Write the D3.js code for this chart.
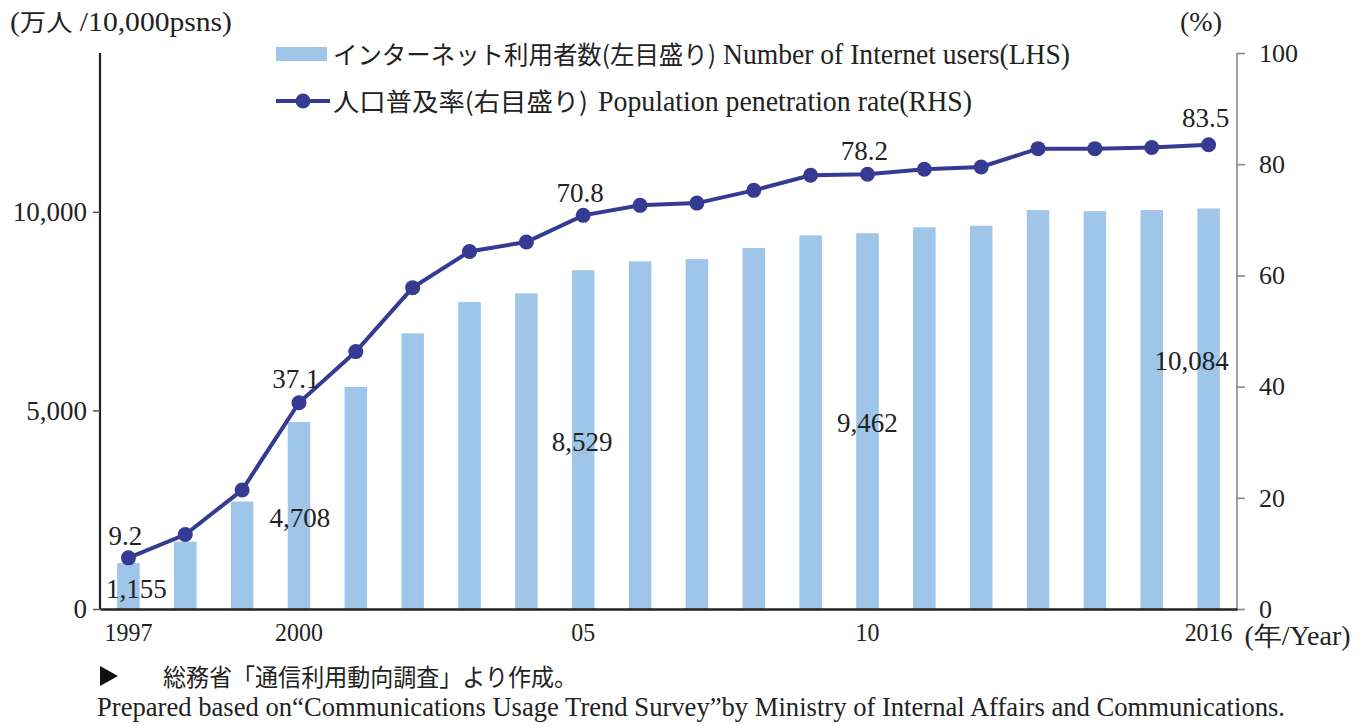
<!DOCTYPE html>
<html>
<head>
<meta charset="utf-8">
<script src="https://cdn.jsdelivr.net/npm/d3@7"></script>
<style>
  html, body { margin: 0; padding: 0; background: #fff; }
  svg { display: block; }
</style>
</head>
<body>
<div id="chart"></div>
<script>
// Internet users (10,000 persons) and population penetration rate (%), 1997-2016
const years = [1997, 1998, 1999, 2000, 2001, 2002, 2003, 2004, 2005, 2006,
               2007, 2008, 2009, 2010, 2011, 2012, 2013, 2014, 2015, 2016];
const users = [1155, 1694, 2706, 4708, 5593, 6942, 7730, 7948, 8529, 8754,
               8811, 9091, 9408, 9462, 9610, 9652, 10044, 10018, 10046, 10084];
const rate = [9.2, 13.4, 21.4, 37.1, 46.3, 57.8, 64.3, 66.0, 70.8, 72.6,
              73.0, 75.3, 78.0, 78.2, 79.1, 79.5, 82.8, 82.8, 83.0, 83.5];
const xTickLabels = { 1997: "1997", 2000: "2000", 2005: "05", 2010: "10", 2016: "2016" };
const leftTicks = [0, 5000, 10000];
const rightTicks = [0, 20, 40, 60, 80, 100];
const labeledYears = [1997, 2000, 2005, 2010, 2016];

const W = 1368, H = 725;
const margin = { top: 53, right: 131, bottom: 116, left: 100 };
const serif = "'Liberation Serif', 'DejaVu Serif', serif";
const jp = "'Noto Sans CJK JP', sans-serif";
const barColor = "#9fc5e8";
const lineColor = "#353b92";
const textColor = "#222";

const svg = d3.select("#chart").append("svg")
    .attr("width", W)
    .attr("height", H);

const x = d3.scaleBand()
    .domain(years)
    .range([margin.left, W - margin.right])
    .paddingInner(0.604)
    .paddingOuter(0.302);

const yL = d3.scaleLinear().domain([0, 14000]).range([H - margin.bottom, margin.top]);
const yR = d3.scaleLinear().domain([0, 100]).range([H - margin.bottom, margin.top]);
const cx = d => x(d) + x.bandwidth() / 2;

// plain text helper; optional fixed width squeezes glyphs like the condensed original
function addText(g, px, py, str, font, size, width) {
    const t = g.append("text")
        .attr("x", px).attr("y", py)
        .attr("font-family", font).attr("font-size", size)
        .attr("fill", textColor)
        .text(str);
    if (width) t.attr("textLength", width).attr("lengthAdjust", "spacingAndGlyphs");
    return t;
}

// Bars
svg.append("g").selectAll("rect")
    .data(years)
    .enter().append("rect")
    .attr("x", d => x(d))
    .attr("y", (d, i) => yL(users[i]))
    .attr("width", x.bandwidth())
    .attr("height", (d, i) => yL(0) - yL(users[i]))
    .attr("fill", barColor);

// Left axis
const axL = svg.append("g")
    .attr("transform", `translate(${margin.left},0)`)
    .call(d3.axisLeft(yL).tickValues(leftTicks).tickSize(7).tickPadding(6)
        .tickFormat(d3.format(",")));
axL.select(".domain").attr("stroke", "#222").attr("stroke-width", 2.2)
    .attr("d", `M0,${yL(0)}V${margin.top}`);
axL.selectAll(".tick line").attr("stroke", "#555").attr("stroke-width", 1.5);
axL.selectAll(".tick text").attr("font-family", serif).attr("font-size", 27).attr("fill", textColor);

// Right axis
const axR = svg.append("g")
    .attr("transform", `translate(${W - margin.right},0)`)
    .call(d3.axisRight(yR).tickValues(rightTicks).tickSize(8).tickPadding(14));
axR.select(".domain").attr("stroke", "#888").attr("stroke-width", 1.6)
    .attr("d", `M0,${yR(0)}V${margin.top}`);
axR.selectAll(".tick line").attr("stroke", "#888").attr("stroke-width", 1.6);
axR.selectAll(".tick text").attr("font-family", serif).attr("font-size", 26).attr("fill", textColor);

// Bottom axis
const axB = svg.append("g")
    .attr("transform", `translate(0,${yL(0)})`)
    .call(d3.axisBottom(x).tickSize(0).tickPadding(14)
        .tickFormat(d => xTickLabels[d] || ""));
axB.select(".domain").attr("stroke", "#222").attr("stroke-width", 2.6);
axB.selectAll(".tick text").attr("font-family", serif).attr("font-size", 26).attr("fill", textColor)
    .attr("transform", "scale(0.92,1)");

addText(svg, cx(2016) + 36, yL(0) + 36, "(年/Year)", serif, 27, 106);

// Line
const line = d3.line()
    .x(d => cx(d))
    .y((d, i) => yR(rate[i]));
svg.append("path")
    .datum(years)
    .attr("d", line)
    .attr("fill", "none")
    .attr("stroke", lineColor)
    .attr("stroke-width", 4);
svg.append("g").selectAll("circle")
    .data(years)
    .enter().append("circle")
    .attr("cx", d => cx(d))
    .attr("cy", (d, i) => yR(rate[i]))
    .attr("r", 7.5)
    .attr("fill", lineColor);

// Data labels
const labelG = svg.append("g")
    .attr("font-family", serif).attr("font-size", 27).attr("fill", textColor)
    .attr("text-anchor", "middle");
const rateLabelDy = { 1997: -13, 2000: -15, 2005: -13, 2010: -14, 2016: -18 };
labeledYears.forEach(yr => {
    const i = years.indexOf(yr);
    labelG.append("text")
        .attr("x", cx(yr) - 3)
        .attr("y", yR(rate[i]) + rateLabelDy[yr])
        .text(rate[i].toFixed(1));
});
const userLabelPos = { 1997: [8, 598], 2000: [1, 527], 2005: [-1, 451], 2010: [0, 432], 2016: [-17, 370] };
labeledYears.forEach(yr => {
    const i = years.indexOf(yr);
    labelG.append("text")
        .attr("x", cx(yr) + userLabelPos[yr][0])
        .attr("y", userLabelPos[yr][1])
        .text(d3.format(",")(users[i]));
});

// Axis titles
svg.append("text")
    .attr("x", 10).attr("y", 31)
    .attr("font-family", serif).attr("font-size", 27).attr("fill", textColor)
    .attr("textLength", 222).attr("lengthAdjust", "spacingAndGlyphs")
    .html(`(<tspan font-family="${jp}" font-size="24">万人</tspan> /10,000psns)`);
addText(svg, 1180, 31, "(%)", serif, 27, 42);

// Legend
const leg = svg.append("g");
leg.append("rect")
    .attr("x", 276).attr("y", 47).attr("width", 51).attr("height", 14)
    .attr("fill", barColor);
addText(leg, 333, 64, "インターネット利用者数(左目盛り)", jp, 25, 383);
addText(leg, 723, 64, "Number of Internet users(LHS)", serif, 29, 347);
leg.append("line")
    .attr("x1", 276).attr("x2", 330).attr("y1", 101).attr("y2", 101)
    .attr("stroke", lineColor).attr("stroke-width", 4);
leg.append("circle")
    .attr("cx", 303).attr("cy", 101).attr("r", 7.5).attr("fill", lineColor);
addText(leg, 333, 111, "人口普及率(右目盛り)", jp, 25, 255);
addText(leg, 598, 111, "Population penetration rate(RHS)", serif, 29, 374);

// Source note
svg.append("path")
    .attr("d", "M100,666L118,676L100,686Z")
    .attr("fill", "#111");
addText(svg, 163, 686, "総務省「通信利用動向調査」より作成。", jp, 24, 414);
addText(svg, 97, 716,
    "Prepared based on“Communications Usage Trend Survey”by Ministry of Internal Affairs and Communications.",
    serif, 27, 1188);
</script>
</body>
</html>
